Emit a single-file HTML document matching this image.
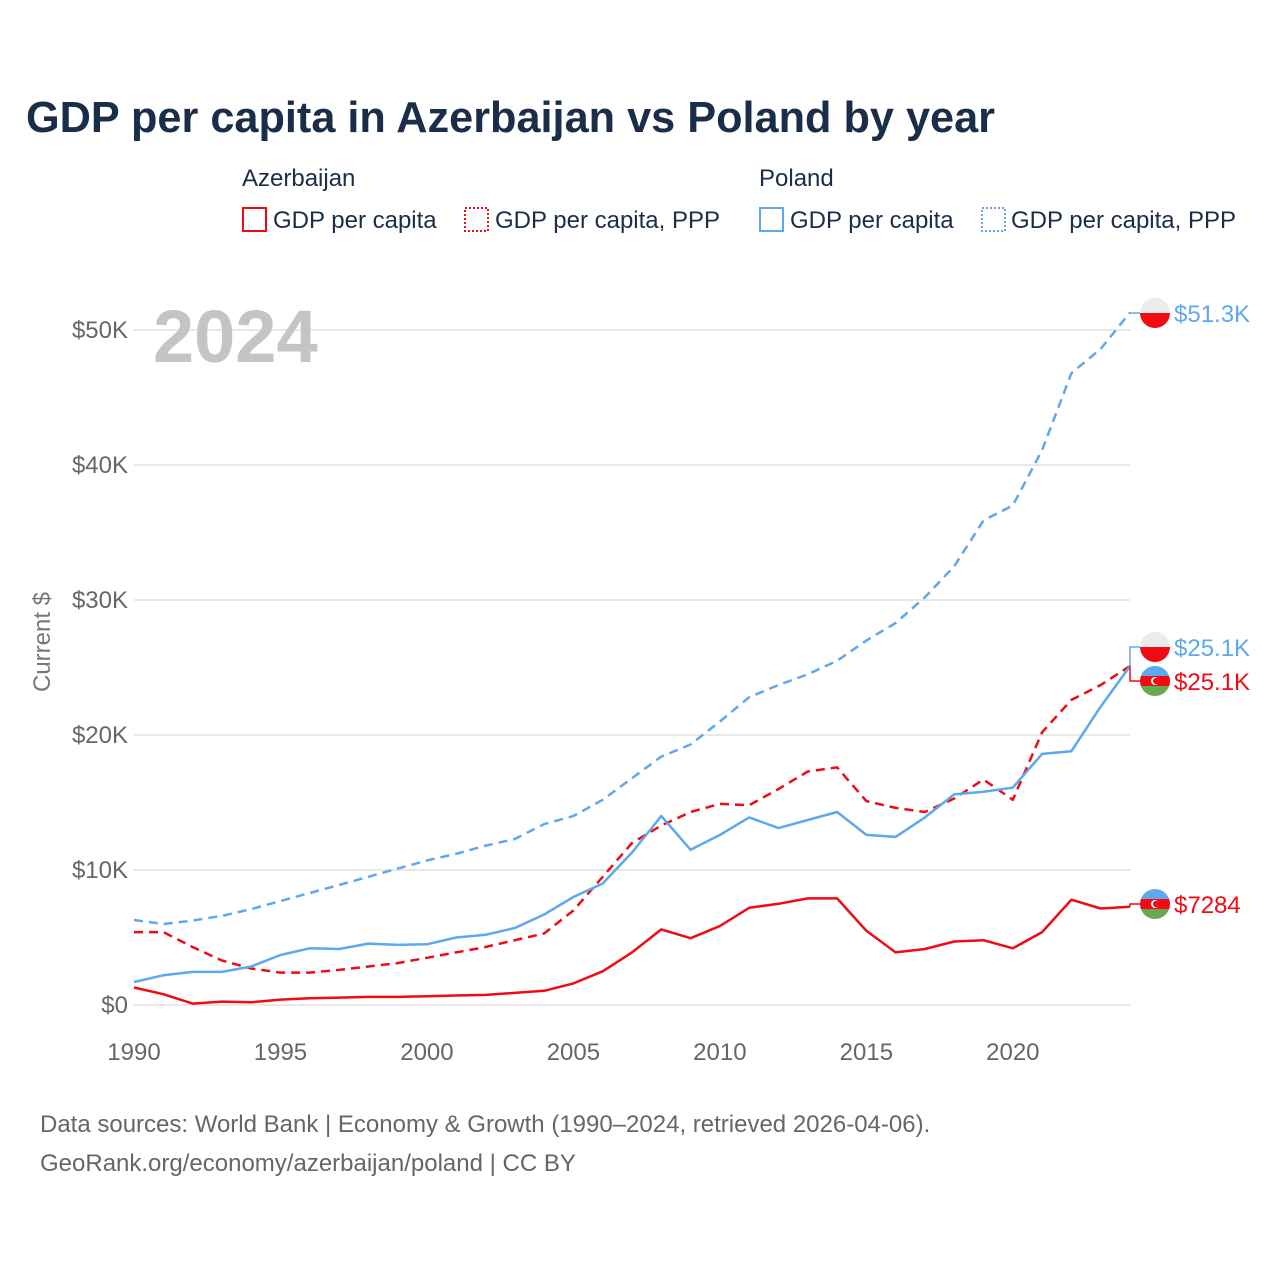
<!DOCTYPE html>
<html><head><meta charset="utf-8">
<style>
html,body{margin:0;padding:0;background:#fff;}
body{width:1280px;height:1280px;overflow:hidden;font-family:"Liberation Sans",sans-serif;}
</style></head>
<body>
<svg id="chart" width="1280" height="1280" viewBox="0 0 1280 1280" xmlns="http://www.w3.org/2000/svg" font-family="Liberation Sans, sans-serif">
<text x="26" y="132" font-size="44" font-weight="bold" fill="#1a2e4a" textLength="969" lengthAdjust="spacingAndGlyphs">GDP per capita in Azerbaijan vs Poland by year</text>
<g font-size="24" fill="#1a2e4a">
  <text x="242" y="186">Azerbaijan</text>
  <text x="759" y="186">Poland</text>
  <g><rect x="243" y="208" width="23" height="23" fill="none" stroke="#f00a14" stroke-width="2"/><text x="273" y="228">GDP per capita</text></g>
  <g><rect x="465" y="208" width="23" height="23" fill="none" stroke="#f00a14" stroke-width="2" stroke-dasharray="2,2"/><text x="495" y="228">GDP per capita, PPP</text></g>
  <g><rect x="760" y="208" width="23" height="23" fill="none" stroke="#5ea8ec" stroke-width="2"/><text x="790" y="228">GDP per capita</text></g>
  <g><rect x="982" y="208" width="23" height="23" fill="none" stroke="#5ea8ec" stroke-width="2" stroke-dasharray="2,2"/><text x="1011" y="228">GDP per capita, PPP</text></g>
</g>
<g id="grid"></g>
<g id="yaxis" font-size="24" fill="#666"></g>
<g id="xaxis" font-size="24" fill="#666"></g>
<text x="50" y="642" font-size="24" fill="#777" transform="rotate(-90 50 642)" text-anchor="middle">Current $</text>
<text x="153" y="362" font-size="74" font-weight="bold" fill="#c4c4c4">2024</text>
<g id="series"></g>
<g id="labels"></g>
<g font-size="24" fill="#666">
<text x="40" y="1132">Data sources: World Bank | Economy &amp; Growth (1990–2024, retrieved 2026-04-06).</text>
<text x="40" y="1171">GeoRank.org/economy/azerbaijan/poland | CC BY</text>
</g>
</svg>
<script>
const years = [1990,1991,1992,1993,1994,1995,1996,1997,1998,1999,2000,2001,2002,2003,2004,2005,2006,2007,2008,2009,2010,2011,2012,2013,2014,2015,2016,2017,2018,2019,2020,2021,2022,2023,2024];
const azeGdp = [1.3,0.8,0.1,0.25,0.2,0.4,0.5,0.55,0.6,0.6,0.65,0.7,0.75,0.9,1.05,1.6,2.5,3.9,5.6,4.95,5.85,7.2,7.5,7.9,7.9,5.5,3.9,4.15,4.7,4.8,4.2,5.4,7.8,7.15,7.284];
const azePpp = [5.4,5.4,4.3,3.3,2.7,2.4,2.4,2.6,2.85,3.1,3.5,3.9,4.3,4.8,5.3,7.0,9.5,12.0,13.3,14.3,14.9,14.8,16.0,17.3,17.6,15.1,14.6,14.3,15.3,16.7,15.2,20.2,22.6,23.7,25.1];
const polGdp = [1.7,2.2,2.45,2.45,2.85,3.7,4.2,4.15,4.55,4.45,4.5,5.0,5.2,5.7,6.7,8.0,9.0,11.3,14.0,11.5,12.6,13.9,13.1,13.7,14.3,12.6,12.45,13.9,15.6,15.8,16.1,18.6,18.8,22.1,25.1];
const polPpp = [6.3,6.0,6.25,6.6,7.1,7.7,8.3,8.9,9.5,10.1,10.7,11.2,11.8,12.3,13.4,14.0,15.2,16.8,18.4,19.3,21.0,22.8,23.7,24.5,25.5,27.0,28.3,30.2,32.5,35.9,37.0,41.1,46.8,48.6,51.3];
const yTicks = [0,10,20,30,40,50];
const yTickLabels = ["$0","$10K","$20K","$30K","$40K","$50K"];
const xTicks = [1990,1995,2000,2005,2010,2015,2020];

const NS="http://www.w3.org/2000/svg";
const X0=134,X1=1130,Y0=1005,Y50=330;
function x(v){return X0+(v-1990)*(X1-X0)/34;}
function y(v){return Y0-(v)*(Y0-Y50)/50;}
function el(t,a,p){const e=document.createElementNS(NS,t);for(const k in a)e.setAttribute(k,a[k]);p.appendChild(e);return e;}
const grid=document.getElementById('grid'),ya=document.getElementById('yaxis'),xa=document.getElementById('xaxis');
yTicks.forEach((t,i)=>{
  const l=el('line',{x1:X0,x2:X1,y1:y(t),y2:y(t),stroke:'#e8e8e8','stroke-width':2},grid);
  
  
  const tx=el('text',{x:128,y:y(t)+8,'text-anchor':'end'},ya);tx.textContent=yTickLabels[i];
  
  
});
xTicks.forEach(t=>{
  const tx=el('text',{x:x(t),y:1060,'text-anchor':'middle'},xa);tx.textContent=t;
  
  
});
const ser=document.getElementById('series');
function line(vals,color,dash,name){
  const d=vals.map((v,i)=>(i?'L':'M')+x(years[i]).toFixed(1)+','+y(v).toFixed(1)).join(' ');
  const p=el('path',{d:d,fill:'none',stroke:color,'stroke-width':2.5,'stroke-linejoin':'round'},ser);
  if(dash)p.setAttribute('stroke-dasharray','9,6');
  
  
}
const RED='#f00a14',BLUE='#5ea8ec';
line(polPpp,BLUE,true,'line-poland-ppp');
line(azePpp,RED,true,'line-azerbaijan-ppp');
line(polGdp,BLUE,false,'line-poland-gdp');
line(azeGdp,RED,false,'line-azerbaijan-gdp');

const lab=document.getElementById('labels');
function flag(cx,cy,country){
  const g=el('g',{},lab);
  
  
  const id='c'+Math.round(cy);
  const cp=el('clipPath',{id:id},g);el('circle',{cx:cx,cy:cy,r:15},cp);
  const gg=el('g',{'clip-path':'url(#'+id+')'},g);
  if(country==='poland'){el('rect',{x:cx-15,y:cy-15,width:30,height:15,fill:'#ececec'},gg);el('rect',{x:cx-15,y:cy,width:30,height:15,fill:RED},gg);}
  else{el('rect',{x:cx-15,y:cy-15,width:30,height:10,fill:'#5ea8ec'},gg);el('rect',{x:cx-15,y:cy-5,width:30,height:10,fill:RED},gg);el('rect',{x:cx-15,y:cy+5,width:30,height:10,fill:'#6aa84f'},gg);
    el('circle',{cx:cx,cy:cy,r:4,fill:'#fff'},gg);el('circle',{cx:cx+1.2,cy:cy,r:3.2,fill:RED},gg);}
}
function endLabel(ly,val,color,country,txt){
  const ay=y(val);
  el('path',{d:`M${X1},${ay} L${X1},${ly} L1142,${ly}`,fill:'none',stroke:color,'stroke-width':1.5},lab);
  flag(1155,ly,country);
  const t=el('text',{x:1174,y:ly+9,'font-size':24,fill:color},lab);t.textContent=txt;
  
  
}
endLabel(313,polPpp[34],BLUE,'poland','$51.3K');
endLabel(647,polGdp[34],BLUE,'poland','$25.1K');
endLabel(681,azePpp[34],RED,'azerbaijan','$25.1K');
endLabel(904,azeGdp[34],RED,'azerbaijan','$7284');
</script>
</body></html>
